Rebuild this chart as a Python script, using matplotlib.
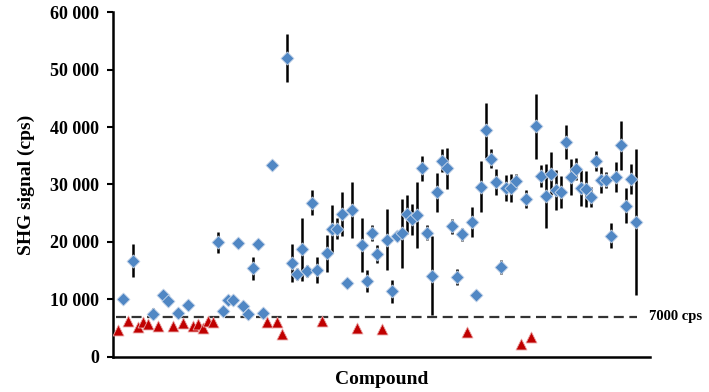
import matplotlib.pyplot as plt
import numpy as np

# compounds below threshold (red triangles): index, signal
red_idx = [0, 2, 4, 5, 6, 8, 11, 13, 15, 16, 17, 18, 19, 30, 32, 33, 41, 48, 53, 70, 81, 83]
red_val = [4600, 6300, 5100, 6000, 5700, 5400, 5400, 5800, 5400, 5700, 5000, 6300, 6000,
           6000, 6000, 4000, 6300, 5000, 4800, 4300, 2200, 3500]

# compounds with signal (blue diamonds): index, signal, error
blue_idx = [1, 3, 7, 9, 10, 12, 14, 20, 21, 22, 23, 24, 25, 26, 27, 28, 29, 31, 34, 35,
            36, 37, 38, 39, 40, 42, 43, 44, 45, 46, 47, 49, 50, 51, 52, 54, 55, 56, 57, 58,
            59, 60, 61, 62, 63, 64, 65, 66, 67, 68, 69, 71, 72, 73, 74, 75, 76, 77, 78, 79,
            80, 82, 84, 85, 86, 87, 88, 89, 90, 91, 92, 93, 94, 95, 96, 97, 98, 99, 100, 101,
            102, 103, 104]
blue_val = [10000, 16700, 7500, 10800, 9700, 7700, 9000, 19900, 8000, 9800, 9800, 19800, 8800,
            7400, 15400, 19600, 7600, 33400, 52000, 16300, 14400, 18700, 14900, 26800, 15100,
            18000, 22300, 22300, 24800, 12900, 25600, 19500, 13200, 21600, 17900, 20400, 11400,
            21100, 21500, 24800, 23900, 24700, 32800, 21600, 14100, 28600, 34100, 32800, 22700,
            13900, 21300, 23400, 10700, 29600, 39400, 34500, 30400, 15600, 29400, 29400, 30600,
            27500, 40100, 31500, 28000, 31900, 29100, 28700, 37400, 31300, 32700, 29400, 29200,
            27800, 34100, 30800, 30800, 21100, 31300, 36800, 26300, 30900, 23400]
blue_err = [0, 2900, 900, 0, 0, 0, 0, 1800, 0, 700, 0, 0, 0,
            0, 2000, 700, 0, 0, 4200, 3300, 1000, 5500, 1000, 2200, 2200,
            3200, 4200, 1800, 3800, 0, 4900, 4700, 1900, 1400, 1600, 5300, 2000,
            0, 6000, 3400, 2700, 5800, 2200, 1300, 6900, 3400, 2000, 3600, 1300,
            1400, 1200, 2600, 0, 4400, 4800, 1600, 2300, 1200, 2200, 2400, 1200,
            1600, 5600, 1900, 5500, 3700, 3500, 2800, 3000, 3100, 1900, 3200, 3200,
            1800, 1700, 2300, 1400, 2100, 2600, 4300, 3100, 2600, 12700]

threshold = 7000

plt.rcParams['font.family'] = 'Liberation Serif'
plt.rcParams['font.weight'] = 'bold'

fig = plt.figure(figsize=(7.09, 3.92), dpi=100)
ax = fig.add_axes([0.159, 0.090, 0.758, 0.879])

ax.plot([min(red_idx + blue_idx) - 0.4, max(blue_idx) + 0.2], [threshold, threshold],
        color='#333333', lw=1.6, dashes=(4.5, 2.5), zorder=1)

ax.errorbar(blue_idx, blue_val, yerr=blue_err, fmt='none', ecolor='black', elinewidth=1.8,
            capsize=0, zorder=2)
ax.scatter(blue_idx, blue_val, marker='D', s=44, color='#5087C4', edgecolor='#C9D7EA',
           linewidth=0.6, zorder=3)
ax.scatter(red_idx, red_val, marker='^', s=62, color='#C00000', edgecolor='#E8A0A0',
           linewidth=0.6, zorder=3)

ax.text(0.998, threshold, '7000 cps', transform=ax.get_yaxis_transform(), fontsize=10.5,
        fontweight='bold', va='center', ha='left')

ax.set_xlim(-1.1, 106.9)
ax.set_ylim(0, 60000)
ax.set_yticks(np.arange(0, 60001, 10000))
ax.set_yticklabels(['0' if v == 0 else f'{v // 1000} 000' for v in range(0, 60001, 10000)])
ax.set_xticks([])
ax.tick_params(axis='y', labelsize=13, length=4, width=1.5, pad=6)
for s in ['top', 'right']:
    ax.spines[s].set_visible(False)
ax.spines['left'].set_linewidth(1.8)
ax.spines['bottom'].set_linewidth(1.8)

ax.set_ylabel('SHG signal (cps)', fontsize=14, fontweight='bold', labelpad=11)
ax.set_xlabel('Compound', fontsize=14, fontweight='bold', labelpad=10)

fig.savefig('out.png', dpi=100)
